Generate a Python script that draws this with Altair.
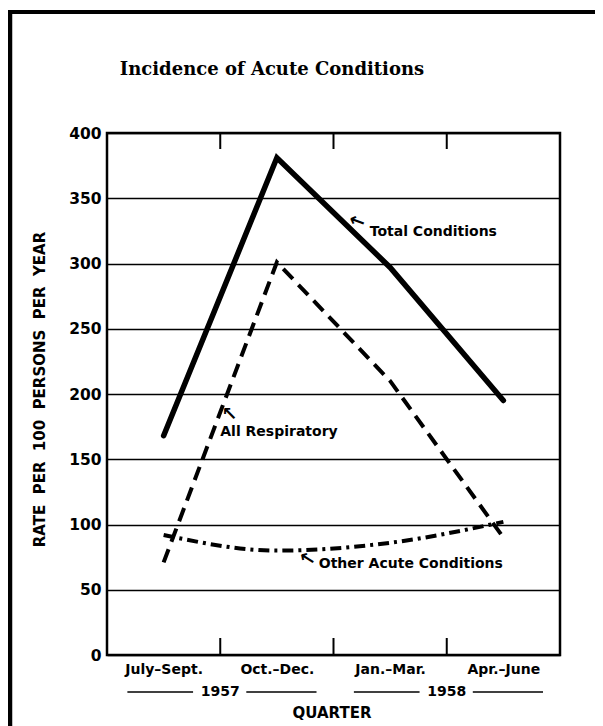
import altair as alt
import pandas as pd

# ---------------- data ----------------
quarters = ["July–Sept.", "Oct.–Dec.", "Jan.–Mar.", "Apr.–June"]
total_conditions = [168, 381, 297, 195]
all_respiratory = [71, 301, 210, 90]
other_acute = [92, 80, 86, 102]
years = ["1957", "1958"]
year_quarter_idx = [[0, 1], [2, 3]]
y_ticks = [0, 50, 100, 150, 200, 250, 300, 350, 400]

ann_labels = ["Total Conditions", "All Respiratory", "Other Acute Conditions"]
ann_x = [2.32, 1.0, 1.87]
ann_y = [324, 171, 69.5]
arrow_glyphs = ["←", "↖", "←"]
arrow_x = [2.21, 1.08, 1.77]
arrow_y = [332.5, 185, 74]
arrow_angle = [20, 0, 32]

# ---------------- layout ----------------
W, H = 453, 522
SANS = "DejaVu Sans"
n = len(quarters)
pos = [i + 0.5 for i in range(n)]

xscale = alt.Scale(domain=[0, n])
yscale = alt.Scale(domain=[0, 400])

label_array = "[" + ",".join("'" + q + "'" for q in quarters) + "]"

df_total = pd.DataFrame({"pos": pos, "rate": total_conditions})
df_resp = pd.DataFrame({"pos": pos, "rate": all_respiratory})
df_other = pd.DataFrame({"pos": pos, "rate": other_acute})

x_enc = alt.X(
    "pos:Q",
    scale=xscale,
    axis=alt.Axis(
        values=pos,
        labelExpr=label_array + "[floor(datum.value)]",
        ticks=False,
        domain=False,
        grid=False,
        labelPadding=7,
        labelFontSize=14,
        labelFontWeight="bold",
        labelFont=SANS,
        labelColor="black",
        title=None,
    ),
)
y_enc = alt.Y(
    "rate:Q",
    scale=yscale,
    axis=alt.Axis(
        values=y_ticks,
        grid=True,
        gridColor="black",
        gridWidth=1.4,
        gridOpacity=1,
        ticks=False,
        domain=False,
        labelPadding=6,
        labelFontSize=15.5,
        labelFontWeight="bold",
        labelFont=SANS,
        labelColor="black",
        title="RATE\u00a0 PER\u00a0 100\u00a0 PERSONS\u00a0 PER\u00a0 YEAR",
        titleFont=SANS,
        titleFontSize=15,
        titleFontWeight="bold",
        titleColor="black",
        titleAngle=270,
        titleAlign="center",
        titleBaseline="middle",
        titleX=-68,
        titleY=256,
    ),
)

total_line = alt.Chart(df_total).mark_line(
    color="black", strokeWidth=5.5, strokeCap="round", strokeJoin="miter"
).encode(x=x_enc, y=y_enc)

resp_line = alt.Chart(df_resp).mark_line(
    color="black", strokeWidth=4, strokeDash=[14, 8], strokeCap="butt"
).encode(x=alt.X("pos:Q", scale=xscale), y=alt.Y("rate:Q", scale=yscale))

other_line = alt.Chart(df_other).mark_line(
    color="black", strokeWidth=4, strokeDash=[11, 5, 3, 5], strokeCap="butt",
    interpolate="monotone"
).encode(x=alt.X("pos:Q", scale=xscale), y=alt.Y("rate:Q", scale=yscale))

# quarter boundary ticks (top and bottom)
df_bounds = pd.DataFrame({"b": list(range(1, n))})
top_ticks = alt.Chart(df_bounds).mark_rule(color="black", strokeWidth=2).encode(
    x=alt.X("b:Q", scale=xscale), y=alt.value(0), y2=alt.value(16)
)
bot_ticks = alt.Chart(df_bounds).mark_rule(color="black", strokeWidth=2).encode(
    x=alt.X("b:Q", scale=xscale), y=alt.value(H - 17), y2=alt.value(H)
)

# year labels with lines
year_center = [sum(ix) / len(ix) + 0.5 for ix in year_quarter_idx]
df_years = pd.DataFrame({"year": years, "c": year_center})
year_text = alt.Chart(df_years).mark_text(
    font=SANS, fontSize=14, fontWeight="bold", color="black", baseline="middle"
).encode(x=alt.X("c:Q", scale=xscale), y=alt.value(H + 37), text="year:N")
year_left = alt.Chart(df_years).transform_calculate(
    a="datum.c - 0.82", b="datum.c - 0.24"
).mark_rule(color="black", strokeWidth=1.6).encode(
    x=alt.X("a:Q", scale=xscale), x2="b:Q", y=alt.value(H + 37)
)
year_right = alt.Chart(df_years).transform_calculate(
    a="datum.c + 0.23", b="datum.c + 0.85"
).mark_rule(color="black", strokeWidth=1.6).encode(
    x=alt.X("a:Q", scale=xscale), x2="b:Q", y=alt.value(H + 37)
)

quarter_title = alt.Chart(pd.DataFrame({"t": ["QUARTER"]})).mark_text(
    font=SANS, fontSize=15, fontWeight="bold", color="black", baseline="middle"
).encode(x=alt.value(225), y=alt.value(H + 58), text="t:N")

main_title = alt.Chart(pd.DataFrame({"t": ["Incidence of Acute Conditions"]})).mark_text(
    font="DejaVu Serif", fontSize=18, fontWeight="bold", color="black", baseline="middle"
).encode(x=alt.value(165), y=alt.value(-63), text="t:N")

# annotations
df_ann = pd.DataFrame({"label": ann_labels, "x": ann_x, "y": ann_y})
ann_text = alt.Chart(df_ann).mark_text(
    font=SANS, fontSize=14, fontWeight="bold", color="black",
    align="left", baseline="middle"
).encode(
    x=alt.X("x:Q", scale=xscale), y=alt.Y("y:Q", scale=yscale), text="label:N"
)
df_arrow = pd.DataFrame({"g": arrow_glyphs, "x": arrow_x, "y": arrow_y, "ang": arrow_angle})
ann_arrows = alt.Chart(df_arrow).mark_text(
    font=SANS, fontSize=19, fontWeight="bold", color="black",
    align="center", baseline="middle"
).encode(
    x=alt.X("x:Q", scale=xscale), y=alt.Y("y:Q", scale=yscale), text="g:N",
    angle=alt.Angle("ang:Q", scale=None)
)

# outer page border (left and top)
border_left = alt.Chart(pd.DataFrame({"k": [0]})).mark_rule(color="black", strokeWidth=4.5).encode(
    x=alt.value(-97), y=alt.value(-123), y2=alt.value(H + 80)
)
border_top = alt.Chart(pd.DataFrame({"k": [0]})).mark_rule(color="black", strokeWidth=4).encode(
    y=alt.value(-121), x=alt.value(-99), x2=alt.value(W + 60)
)

chart = alt.layer(
    total_line, resp_line, other_line, top_ticks, bot_ticks,
    year_left, year_right, year_text, quarter_title, main_title,
    ann_text, ann_arrows, border_left, border_top
).properties(
    width=W, height=H,
    autosize=alt.AutoSizeParams(type="none"),
    padding={"left": 99, "top": 125, "right": 35, "bottom": 71},
    background="white",
).configure_view(stroke="black", strokeWidth=2.5)

chart.save("out.html", embed_options={"renderer": "svg", "actions": False})
